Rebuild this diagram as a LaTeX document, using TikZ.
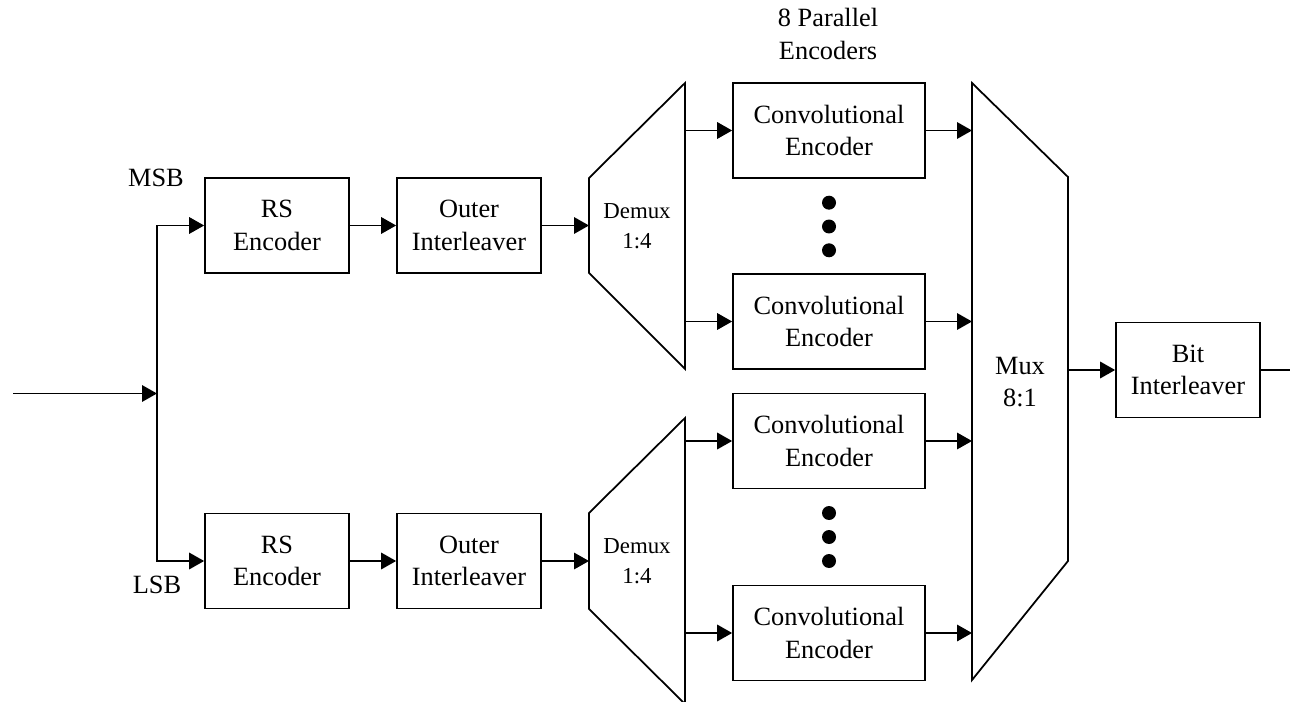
\documentclass[tikz,border=0pt]{standalone}
\usepackage{fontspec}
\setmainfont{Liberation Serif}
\usepackage{tikz}
\usetikzlibrary{arrows.meta,positioning,calc}
\tikzset{
  wire/.style={line width=1pt},
  arr/.style={wire, -{Triangle[length=0.3cm,width=0.33cm]}},
  blk/.style={draw, wire, minimum width=2.88cm, minimum height=1.9cm, inner sep=0pt,
    align=center, font=\fontsize{15}{18.5}\selectfont},
  cblk/.style={blk, minimum width=3.84cm},
  lbl/.style={inner sep=0pt, align=center, font=\fontsize{15}{18.5}\selectfont},
  dot/.style={circle, fill, inner sep=0pt, minimum size=0.28cm},
}

\begin{document}
\begin{tikzpicture}[x=0.02cm, y=-0.02cm]
  \useasboundingbox (0,0) rectangle (1290,702);
  \coordinate (in) at (13,393.5);
  \coordinate (split) at (157,393.5);
  \node[lbl] (msb) at (156,178) {MSB};
  \node[lbl] (lsb) at (157,585) {LSB};
  \node[blk] (rsM) at (277,225.5) {RS\\Encoder};
  \node[blk] (oiM) at (469,225.5) {Outer\\Interleaver};
  \node[blk] (rsL) at (277,561) {RS\\Encoder};
  \node[blk] (oiL) at (469,561) {Outer\\Interleaver};

  \draw[wire] (589,178) -- (685,83) -- (685,369) -- (589,273) -- cycle;
  \node[lbl, font=\fontsize{13}{17}\selectfont] (dmxM) at (637,226) {Demux\\1:4};
  \coordinate (dmxMin) at (589,225.5);
  \coordinate (dmxMout) at (685,225.5);
  \draw[wire] (589,513) -- (685,418) -- (685,704) -- (589,609) -- cycle;
  \node[lbl, font=\fontsize{13}{17}\selectfont] (dmxL) at (637,561) {Demux\\1:4};
  \coordinate (dmxLin) at (589,561);
  \coordinate (dmxLout) at (685,561);

  \node[lbl] (par) at (828,34) {8 Parallel\\Encoders};
  \node[cblk] (cv1) at (829,130.5) {Convolutional\\Encoder};
  \node[cblk] (cv2) at (829,321.5) {Convolutional\\Encoder};
  \node[cblk] (cv3) at (829,441) {Convolutional\\Encoder};
  \node[cblk] (cv4) at (829,633) {Convolutional\\Encoder};
  \foreach \y/\n in {202.7/a,226.5/b,250.3/c,513/d,537/e,561/f}
    \node[dot] (dt\n) at (829,\y) {};

  \draw[wire] (972,83) -- (1068,177) -- (1068,561) -- (972,680) -- cycle;
  \node[lbl] (mux) at (1020,382) {Mux\\8:1};
  \coordinate (muxin) at (972,382);
  \coordinate (muxout) at (1068,370);
  \node[blk] (bit) at (1188,370) {Bit\\Interleaver};
  \coordinate (out) at (1290,370);

  \draw[arr] (in) -- (split);
  \draw[arr] (split) |- (rsM.west);
  \draw[arr] (split) |- (rsL.west);
  \draw[arr] (rsM) -- (oiM);
  \draw[arr] (rsL) -- (oiL);
  \draw[arr] (oiM) -- (dmxMin);
  \draw[arr] (oiL) -- (dmxLin);
  \foreach \c in {cv1,cv2}
    \draw[arr] (\c.west -| dmxMout) -- (\c.west);
  \foreach \c in {cv3,cv4}
    \draw[arr] (\c.west -| dmxLout) -- (\c.west);
  \foreach \c in {cv1,cv2,cv3,cv4}
    \draw[arr] (\c.east) -- (\c.east -| muxin);
  \draw[arr] (muxout) -- (bit.west);
  \draw[wire] (bit.east) -- (out);
\end{tikzpicture}
\end{document}
